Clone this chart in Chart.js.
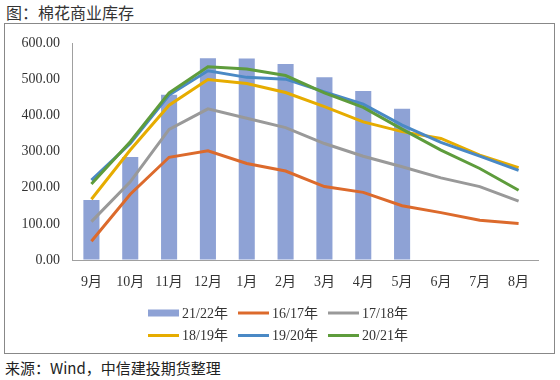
<!DOCTYPE html>
<html>
<head>
<meta charset="utf-8">
<script src="https://cdn.jsdelivr.net/npm/chart.js@4.4.1/dist/chart.umd.min.js"></script>
<style>
  html, body { margin: 0; padding: 0; background: #fff; }
  #wrap { position: relative; width: 560px; height: 380px; overflow: hidden; }
  #title { position: absolute; left: 6px; top: 1px; font: 16px "Noto Sans CJK SC", sans-serif; color: #333; line-height: 22px; white-space: nowrap; }
  #box { position: absolute; left: 4px; top: 23px; width: 549px; height: 329px; border: 1px solid #888; }
  #source { position: absolute; left: 5px; top: 357px; font: 15px "Noto Sans CJK SC", sans-serif; color: #222; line-height: 22px; white-space: nowrap; }
  #c { position: absolute; left: 0; top: 0; }
  #probe { position: absolute; left: -1000px; font-family: "Liberation Serif"; }
</style>
</head>
<body>
<div id="wrap">
  <div id="title">图：棉花商业库存</div>
  <div id="box"></div>
  <div id="source">来源：Wind，中信建投期货整理</div>
  <canvas id="c" width="560" height="380"></canvas>
</div>
<script>
const categories = ['9月','10月','11月','12月','1月','2月','3月','4月','5月','6月','7月','8月'];
const seriesNames = ['21/22年','16/17年','17/18年','18/19年','19/20年','20/21年'];
const s2122 = [166, 285, 457, 558, 557, 542, 505, 467, 418, null, null, null];
const s1617 = [52, 182, 284, 302, 267, 246, 203, 187, 150, 131, 110, 101];
const s1718 = [106, 216, 361, 418, 392, 366, 322, 287, 258, 227, 203, 163];
const s1819 = [168, 304, 428, 499, 488, 463, 424, 382, 355, 336, 290, 255];
const s1920 = [221, 322, 456, 523, 505, 500, 465, 431, 373, 325, 287, 248];
const s2021 = [210, 327, 462, 534, 528, 510, 462, 422, 362, 304, 253, 193];
const yTicks = [0, 100, 200, 300, 400, 500, 600];

const colors = ['#8EA2D5', '#DC6A2C', '#999999', '#E6AC00', '#4A89C5', '#5E9C3C'];
const serifFamily = '"Liberation Serif", "DejaVu Serif", "Noto Sans CJK SC", serif';
const tickFont = { family: serifFamily, size: 14 };

function lineDs(label, data, color, order) {
  return { type: 'line', label, data, borderColor: color, backgroundColor: color,
           borderWidth: 3, pointRadius: 0, pointHoverRadius: 0, tension: 0, fill: false, order };
}

const legendPlugin = {
  id: 'customLegend',
  afterDraw(chart) {
    const ctx = chart.ctx;
    ctx.save();
    ctx.font = '14px ' + serifFamily;
    ctx.textBaseline = 'middle';
    chart.data.datasets.forEach((ds, i) => {
      const col = i % 3, row = Math.floor(i / 3);
      const x0 = 148 + col * 90;
      const yc = 313 + row * 22.5;
      if (ds.type === 'line') {
        ctx.strokeStyle = ds.borderColor;
        ctx.lineWidth = 3;
        ctx.beginPath();
        ctx.moveTo(x0, yc);
        ctx.lineTo(x0 + 31, yc);
        ctx.stroke();
      } else {
        ctx.fillStyle = ds.backgroundColor;
        ctx.fillRect(x0, yc - 3.5, 31, 7);
      }
      ctx.fillStyle = '#333';
      ctx.fillText(ds.label, x0 + 34, yc + 1);
    });
    ctx.restore();
  }
};

function build() {
  new Chart(document.getElementById('c'), {
    type: 'bar',
    data: {
      labels: categories,
      datasets: [
        { type: 'bar', label: seriesNames[0], data: s2122, backgroundColor: colors[0],
          categoryPercentage: 0.45, barPercentage: 0.92, order: 10 },
        lineDs(seriesNames[1], s1617, colors[1], 5),
        lineDs(seriesNames[2], s1718, colors[2], 4),
        lineDs(seriesNames[3], s1819, colors[3], 3),
        lineDs(seriesNames[4], s1920, colors[4], 2),
        lineDs(seriesNames[5], s2021, colors[5], 1)
      ]
    },
    options: {
      responsive: false,
      animation: false,
      devicePixelRatio: 1,
      layout: { padding: { left: 0, right: 22, top: 43, bottom: 90 } },
      plugins: { legend: { display: false }, tooltip: { enabled: false } },
      scales: {
        x: {
          grid: { drawOnChartArea: false, drawTicks: false },
          border: { display: true, color: '#A0A0A0', width: 1 },
          ticks: { color: '#333', font: tickFont, padding: 14, maxRotation: 0, autoSkip: false },
          afterFit(s) { s.height = 30; }
        },
        y: {
          min: 0, max: 600,
          grid: { drawOnChartArea: false, drawTicks: false },
          border: { display: true, color: '#A0A0A0', width: 1 },
          afterBuildTicks(s) { s.ticks = yTicks.map(v => ({ value: v })); },
          ticks: { color: '#333', font: tickFont, padding: 12, callback: v => Number(v).toFixed(2) },
          afterFit(s) { s.width = 72; }
        }
      }
    },
    plugins: [legendPlugin]
  });
}

if (document.fonts && document.fonts.load) {
  Promise.all([
    document.fonts.load('14px "Liberation Serif"', '0123456789./'),
    document.fonts.load('14px "Noto Sans CJK SC"', '月年')
  ]).then(build, build);
} else {
  build();
}
</script>
</body>
</html>
